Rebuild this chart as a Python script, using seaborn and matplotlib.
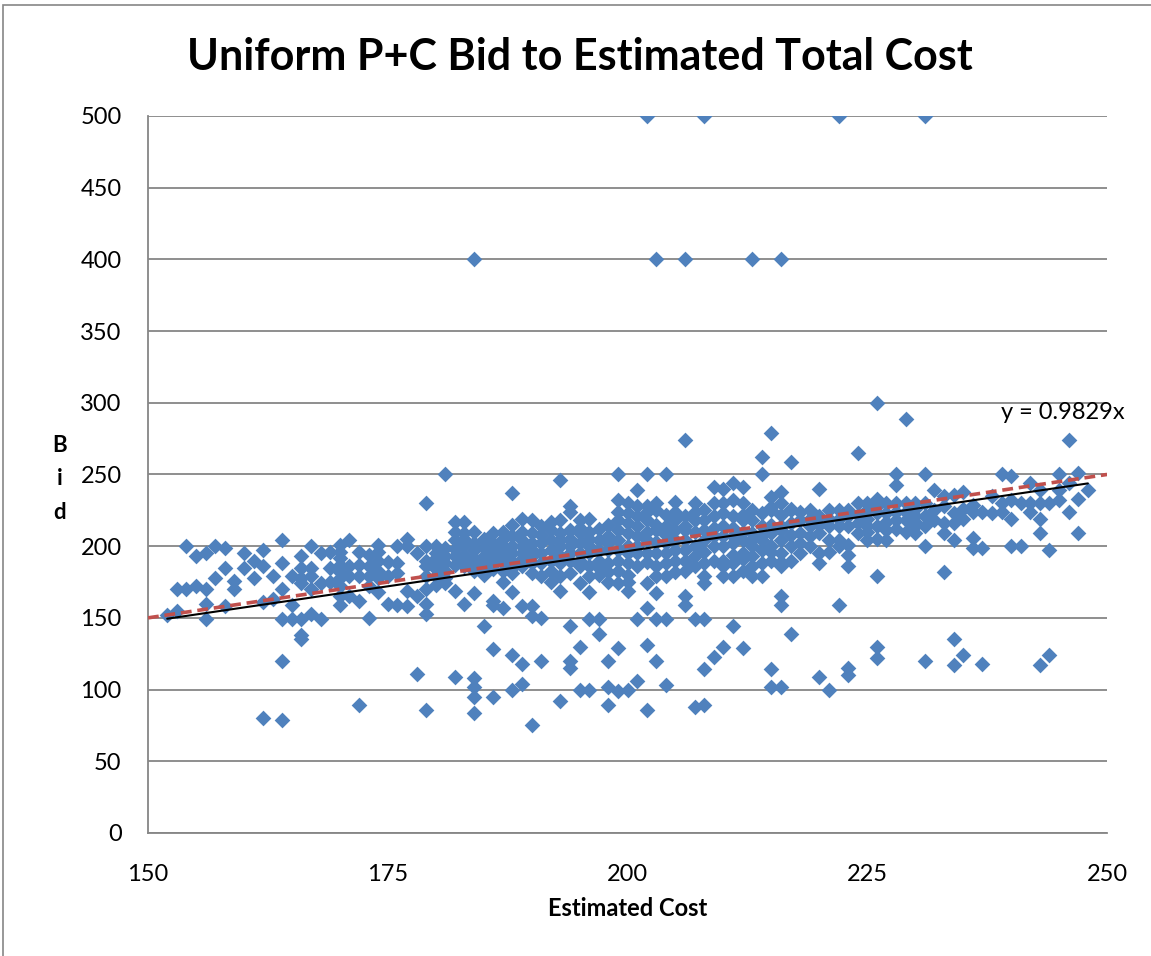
import numpy as np
import pandas as pd
import matplotlib
matplotlib.use("Agg")
import matplotlib.pyplot as plt
import matplotlib.patches as patches
import seaborn as sns

# estimated cost (x) and bid (y)
est_cost = [
    152, 153, 153, 154, 154, 155, 155, 156, 156, 156, 156,
    157, 157, 158, 158, 158, 159, 159, 160, 160, 161, 161,
    162, 162, 162, 162, 163, 163, 164, 164, 164, 164, 164, 164,
    165, 165, 165, 166, 166, 166, 166, 166, 166, 166,
    167, 167, 167, 167, 167, 168, 168, 168, 169, 169, 169,
    170, 170, 170, 170, 170, 170, 170, 170, 170,
    171, 171, 171, 171, 172, 172, 172, 172, 172,
    173, 173, 173, 173, 173, 174, 174, 174, 174, 174, 174,
    175, 175, 175, 176, 176, 176, 176, 177, 177, 177, 177,
    178, 178, 178, 179, 179, 179, 179, 179, 179, 179, 179, 179,
    180, 180, 180, 180, 180, 181, 181, 181, 181, 181,
    182, 182, 182, 182, 182, 182, 183, 183, 183, 183, 183, 183,
    184, 184, 184, 184, 184, 184, 184, 184, 184, 184,
    185, 185, 185, 185, 186, 186, 186, 186, 186, 186, 186,
    187, 187, 187, 187, 187, 187, 188, 188, 188, 188, 188, 188, 188, 188,
    189, 189, 189, 189, 189, 189, 189, 190, 190, 190, 190, 190, 190, 190, 190,
    191, 191, 191, 191, 191, 191, 192, 192, 192, 192, 192,
    193, 193, 193, 193, 193, 193, 193, 193,
    194, 194, 194, 194, 194, 194, 194, 194, 194,
    195, 195, 195, 195, 195, 195, 195, 195,
    196, 196, 196, 196, 196, 196, 196, 196, 197, 197, 197, 197,
    198, 198, 198, 198, 198, 198, 199, 199, 199, 199, 199, 199, 199, 199, 199,
    200, 200, 200, 200, 200, 200, 201, 201, 201, 201, 201, 201, 201,
    202, 202, 202, 202, 202, 202, 202, 202, 202,
    203, 203, 203, 203, 203, 203, 203, 203, 204, 204, 204, 204, 204, 204,
    205, 205, 205, 205, 206, 206, 206, 206, 206, 206, 206, 206,
    207, 207, 207, 207, 207, 207, 208, 208, 208, 208, 208, 208, 208, 208, 208,
    209, 209, 209, 209, 210, 210, 210, 210, 210, 210,
    211, 211, 211, 211, 211, 211, 211, 212, 212, 212, 212, 212, 212, 212,
    213, 213, 213, 213, 213, 213, 214, 214, 214, 214, 214, 214,
    215, 215, 215, 215, 215, 215, 215, 215,
    216, 216, 216, 216, 216, 216, 216, 216, 216, 216, 216,
    217, 217, 217, 217, 217, 217, 218, 218, 218, 219, 219, 219,
    220, 220, 220, 220, 220, 220, 221, 221, 221, 221, 222, 222, 222, 222, 222,
    223, 223, 223, 223, 223, 223, 223, 224, 224, 224, 225, 225, 225,
    226, 226, 226, 226, 226, 226, 226, 227, 227, 227, 228, 228, 228, 228,
    229, 229, 229, 229, 230, 230, 230, 230, 231, 231, 231, 231, 231, 231, 231,
    232, 232, 232, 233, 233, 233, 233, 233, 234, 234, 234, 234, 234, 234,
    235, 235, 235, 235, 236, 236, 236, 236, 237, 237, 237, 238, 238,
    239, 239, 239, 240, 240, 240, 240, 241, 241, 242, 242, 242,
    243, 243, 243, 243, 243, 244, 244, 244, 245, 245, 245,
    246, 246, 246, 247, 247, 247, 248,
]
bid = [
    152, 155, 170, 200, 170, 172, 193, 170, 195, 160, 149,
    200, 178, 199, 185, 158, 176, 170, 195, 185, 190, 178,
    197, 186, 161, 80, 179, 163, 204, 188, 170, 149, 120, 79,
    179, 159, 149, 193, 185, 178, 174, 149, 138, 135,
    200, 185, 179, 170, 153, 195, 174, 149, 196, 185, 175,
    201, 196, 192, 187, 182, 178, 172, 165, 159,
    204, 186, 179, 165, 196, 187, 179, 162, 89,
    194, 186, 179, 172, 150, 201, 196, 190, 183, 178, 168,
    189, 179, 160, 200, 188, 181, 159, 205, 200, 169, 158,
    195, 165, 111, 230, 200, 190, 186, 179, 170, 160, 153, 86,
    200, 195, 188, 179, 173, 250, 199, 193, 183, 174,
    217, 204, 193, 187, 169, 109, 217, 209, 201, 194, 186, 160,
    400, 210, 197, 192, 183, 167, 108, 102, 95, 84,
    199, 193, 185, 144, 209, 197, 189, 162, 159, 128, 95,
    210, 200, 192, 183, 175, 157, 237, 215, 200, 189, 181, 168, 124, 100,
    219, 204, 195, 186, 158, 118, 104, 218, 202, 193, 188, 181, 158, 151, 75,
    214, 202, 195, 179, 150, 120, 211, 204, 197, 190, 175,
    246, 218, 209, 200, 193, 179, 169, 92,
    228, 224, 211, 200, 190, 181, 144, 120, 115,
    218, 209, 202, 195, 186, 174, 130, 100,
    219, 205, 195, 186, 179, 168, 149, 100, 204, 197, 149, 139,
    207, 197, 175, 120, 102, 89, 250, 232, 218, 204, 190, 183, 174, 129, 99,
    230, 216, 200, 188, 169, 100, 239, 221, 207, 195, 186, 149, 106,
    500, 250, 228, 218, 195, 174, 157, 131, 86,
    400, 225, 211, 195, 179, 167, 149, 120, 250, 214, 202, 179, 149, 103,
    231, 218, 204, 190, 400, 274, 221, 211, 197, 183, 165, 159,
    230, 218, 200, 186, 149, 88, 500, 225, 211, 188, 179, 174, 149, 114, 89,
    241, 221, 200, 123, 240, 223, 214, 200, 179, 130,
    244, 232, 221, 207, 194, 179, 144, 241, 230, 218, 204, 195, 183, 129,
    400, 225, 218, 209, 193, 179, 262, 250, 214, 197, 188, 179,
    279, 234, 225, 209, 200, 190, 114, 102,
    400, 238, 230, 222, 214, 204, 195, 186, 165, 159, 102,
    259, 225, 216, 200, 190, 139, 218, 209, 202, 225, 214, 200,
    240, 221, 209, 195, 188, 109, 225, 214, 204, 100, 500, 225, 214, 204, 159,
    221, 214, 201, 194, 186, 115, 110, 265, 230, 216, 225, 214, 204,
    300, 233, 223, 214, 179, 130, 122, 223, 211, 204, 250, 243, 230, 218,
    289, 230, 218, 210, 230, 221, 214, 209, 500, 250, 230, 221, 214, 200, 120,
    239, 225, 218, 235, 228, 216, 209, 182, 236, 223, 216, 204, 135, 117,
    238, 226, 219, 124, 229, 224, 206, 199, 224, 199, 118, 235, 223,
    250, 230, 224, 249, 232, 219, 200, 230, 200, 244, 230, 224,
    239, 230, 219, 209, 117, 230, 197, 124, 250, 239, 232,
    274, 244, 224, 251, 233, 209, 239,
]

# the crowded band between 180 and 230, read from a closer look
band_cost = [
    180, 180, 181, 181, 182, 182, 183, 183, 184, 184, 185, 185, 185,
    186, 186, 186, 187, 187, 187, 188, 188, 188, 189, 189, 189,
    190, 190, 191, 191, 192, 192, 193, 193, 194, 194, 195, 195,
    196, 196, 197, 197, 197, 197, 198, 198, 198, 198,
    199, 199, 199, 200, 200, 200, 200, 200, 201, 201, 201,
    202, 202, 202, 202, 203, 203, 203, 203, 204, 204, 204, 204,
    205, 205, 205, 205, 206, 206, 206, 207, 207, 207, 208, 208, 208,
    209, 209, 209, 209, 210, 210, 210, 210, 211, 211, 211,
    212, 212, 212, 213, 213, 213, 214, 214, 214, 215, 215, 215,
    216, 216, 217, 217, 218, 218, 219, 219, 220, 221, 221, 222, 222,
    223, 224, 224, 225, 225, 225, 226, 226, 227, 227, 228, 228,
    229, 230, 230,
]
band_bid = [
    184, 192, 188, 178, 198, 210, 190, 205, 188, 202, 205, 190, 180,
    202, 193, 184, 205, 196, 188, 207, 195, 185, 210, 200, 191,
    209, 197, 208, 188, 183, 217, 204, 188, 205, 195, 190, 213,
    210, 200, 212, 190, 185, 180, 215, 202, 188, 182,
    224, 197, 211, 223, 209, 195, 180, 175, 214, 200, 228,
    210, 204, 189, 224, 230, 215, 203, 186, 222, 208, 195, 188,
    224, 211, 197, 182, 214, 204, 190, 224, 210, 193, 218, 204, 196,
    230, 213, 207, 190, 230, 207, 190, 186, 213, 202, 188,
    222, 210, 191, 204, 200, 186, 223, 204, 208, 215, 196, 227,
    211, 189, 226, 208, 224, 195, 219, 207, 215, 219, 196, 219, 200,
    225, 222, 209, 219, 210, 230, 228, 205, 217, 230, 224, 212,
    224, 226, 217,
]

trend_slope = 0.9829
x_limits = [150, 250]
y_ticks = list(range(0, 501, 50))
x_ticks = [150, 175, 200, 225, 250]

df = pd.DataFrame({"cost": est_cost + band_cost, "bid": bid + band_bid})

sns.set_style("white")
plt.rcParams["font.family"] = ["Lato", "DejaVu Sans"]
plt.rcParams["text.color"] = "black"
plt.rcParams["xtick.labelcolor"] = "black"
plt.rcParams["ytick.labelcolor"] = "black"

fig = plt.figure(figsize=(11.51, 9.56), dpi=100)
ax = fig.add_axes([0.1286, 0.1287, 0.8332, 0.75])

sns.scatterplot(data=df, x="cost", y="bid", marker="D", s=64, color="#4F81BD",
                linewidth=0, ax=ax, zorder=3)

# y = x reference and the fitted line through the origin
ref = np.array(x_limits, dtype=float)
ax.plot(ref, ref, color="#C0504D", lw=2.6, ls=(0, (3, 1.6)), zorder=5)
fit_x = np.array([df["cost"].min(), df["cost"].max()], dtype=float)
ax.plot(fit_x, trend_slope * fit_x, color="black", lw=1.5, zorder=4)

ax.set_xlim(x_limits)
ax.set_ylim(0, 500)
ax.set_xticks(x_ticks)
ax.set_yticks(y_ticks)
ax.yaxis.grid(True, color="#868686", lw=1.3)
ax.set_axisbelow(True)
for side in ["top", "right"]:
    ax.spines[side].set_visible(False)
for side in ["left", "bottom"]:
    ax.spines[side].set_color("#868686")
    ax.spines[side].set_linewidth(1.3)
ax.tick_params(axis="both", direction="out", length=5, color="#868686",
               labelsize=17, labelcolor="black")
ax.tick_params(axis="y", pad=14)
ax.tick_params(axis="x", pad=17)
ax.set_xlabel("")
ax.set_ylabel("")

fig.text(0.504, 0.940, "Uniform P+C Bid to Estimated Total Cost",
         ha="center", va="center", fontsize=31, fontweight="bold", color="black")
fig.text(0.545, 0.050, "Estimated Cost", ha="center", va="center",
         fontsize=17, fontweight="bold", color="black")
fig.text(0.052, 0.499, "B\ni\nd", ha="center", va="center",
         fontsize=16, fontweight="bold", linespacing=1.75, color="black")
fig.text(0.923, 0.568, "y = %.4fx" % trend_slope, ha="center", va="center",
         fontsize=17, color="black")

fig.patches.append(patches.Rectangle((0.003, -0.1), 1.2, 1.095, fill=False,
                                     ec="#868686", lw=1.2,
                                     transform=fig.transFigure))

fig.savefig("out.png", dpi=100)
